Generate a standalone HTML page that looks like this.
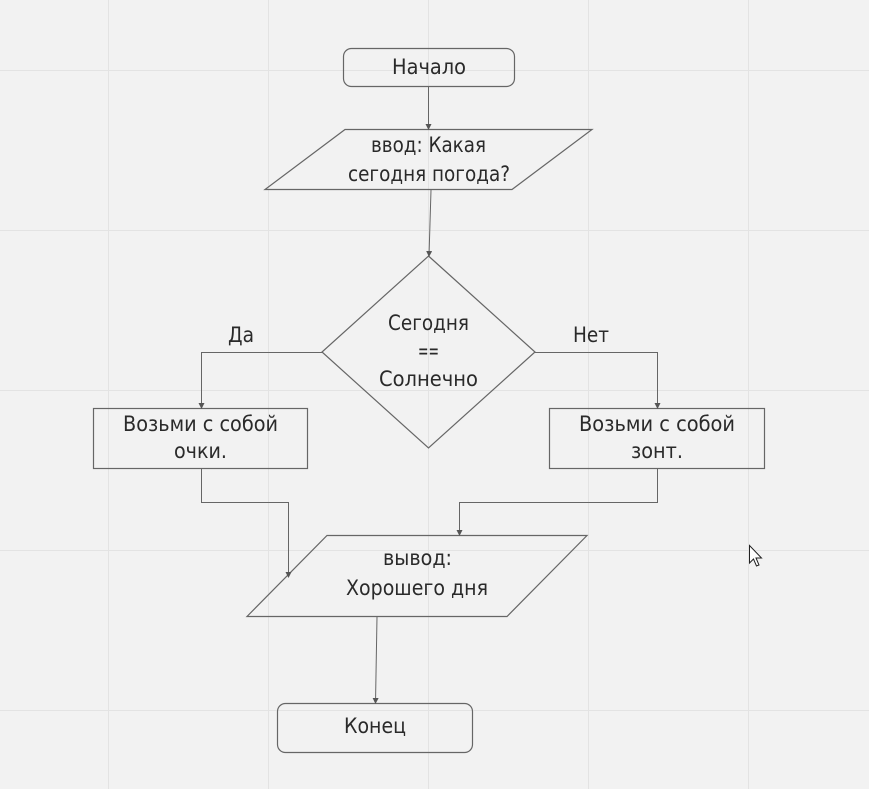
<!DOCTYPE html>
<html><head><meta charset="utf-8"><style>
html,body{margin:0;padding:0;background:#f2f2f2;}
svg{display:block;}
text{font-family:"DejaVu Sans","Liberation Sans",sans-serif;font-size:21px;fill:#2a2a2a;}
</style></head><body>
<svg width="869" height="789" viewBox="0 0 869 789" xmlns="http://www.w3.org/2000/svg">
<defs><marker id="a" markerWidth="6" markerHeight="6" refX="5" refY="3" orient="auto" markerUnits="userSpaceOnUse"><path d="M0,0 L6,3 L0,6 z" fill="#555"/></marker></defs>
<rect width="869" height="789" fill="#f2f2f2"/>
<g stroke="#e3e3e3" stroke-width="1">
<line x1="108.5" y1="0" x2="108.5" y2="789"/><line x1="268.5" y1="0" x2="268.5" y2="789"/><line x1="428.5" y1="0" x2="428.5" y2="789"/><line x1="588.5" y1="0" x2="588.5" y2="789"/><line x1="748.5" y1="0" x2="748.5" y2="789"/>
<line x1="0" y1="70.5" x2="869" y2="70.5"/><line x1="0" y1="230.5" x2="869" y2="230.5"/><line x1="0" y1="390.5" x2="869" y2="390.5"/><line x1="0" y1="550.5" x2="869" y2="550.5"/><line x1="0" y1="710.5" x2="869" y2="710.5"/>
</g>
<g fill="none" stroke="#666" stroke-width="1.2">
<rect x="343.5" y="48.5" width="171" height="38" rx="8"/>
<polygon points="345,129.5 592,129.5 512,189.5 265,189.5"/>
<polygon points="428.5,256 535,352 428.5,448 322,352"/>
<rect x="93.5" y="408.5" width="214" height="60"/>
<rect x="549.5" y="408.5" width="215" height="60"/>
<polygon points="327,535.5 587,535.5 507,616.5 247,616.5"/>
<rect x="277.5" y="703.5" width="195" height="49" rx="8"/>
</g>
<g fill="none" stroke="#666" stroke-width="1" marker-end="url(#a)">
<line x1="428.5" y1="87" x2="428.5" y2="129"/>
<line x1="431" y1="190" x2="429" y2="256"/>
<polyline points="322,352.5 201.5,352.5 201.5,408"/>
<polyline points="535,352.5 657.5,352.5 657.5,408"/>
<polyline points="201.5,469 201.5,502.5 288.5,502.5 288.5,577"/>
<polyline points="657.5,469 657.5,502.5 459.5,502.5 459.5,535"/>
<line x1="377" y1="617" x2="375.5" y2="703"/>
</g>
<text x="429" y="74" text-anchor="middle" textLength="74" lengthAdjust="spacingAndGlyphs">Начало</text>
<text x="428.5" y="152" text-anchor="middle" textLength="115" lengthAdjust="spacingAndGlyphs">ввод: Какая</text>
<text x="429" y="181" text-anchor="middle" textLength="162" lengthAdjust="spacingAndGlyphs">сегодня погода?</text>
<text x="428.5" y="330" text-anchor="middle" textLength="81" lengthAdjust="spacingAndGlyphs">Сегодня</text>
<text x="428.5" y="358" text-anchor="middle" textLength="21" lengthAdjust="spacingAndGlyphs">==</text>
<text x="428.5" y="386" text-anchor="middle" textLength="99" lengthAdjust="spacingAndGlyphs">Солнечно</text>
<text x="241" y="342" text-anchor="middle" textLength="26" lengthAdjust="spacingAndGlyphs">Да</text>
<text x="591" y="342" text-anchor="middle" textLength="36" lengthAdjust="spacingAndGlyphs">Нет</text>
<text x="200.5" y="431" text-anchor="middle" textLength="155" lengthAdjust="spacingAndGlyphs">Возьми с собой</text>
<text x="200.5" y="458" text-anchor="middle" textLength="53" lengthAdjust="spacingAndGlyphs">очки.</text>
<text x="657" y="431" text-anchor="middle" textLength="156" lengthAdjust="spacingAndGlyphs">Возьми с собой</text>
<text x="657" y="458" text-anchor="middle" textLength="52" lengthAdjust="spacingAndGlyphs">зонт.</text>
<text x="417.5" y="565" text-anchor="middle" textLength="69" lengthAdjust="spacingAndGlyphs">вывод:</text>
<text x="417" y="595" text-anchor="middle" textLength="142" lengthAdjust="spacingAndGlyphs">Хорошего дня</text>
<text x="375" y="733" text-anchor="middle" textLength="62" lengthAdjust="spacingAndGlyphs">Конец</text>
<path d="M749.5,545.5 L749.5,563 L753.5,559 L756.5,566 L759,565 L756,558 L761.5,558 Z" fill="#fff" stroke="#222" stroke-width="1"/>
</svg>
</body></html>
